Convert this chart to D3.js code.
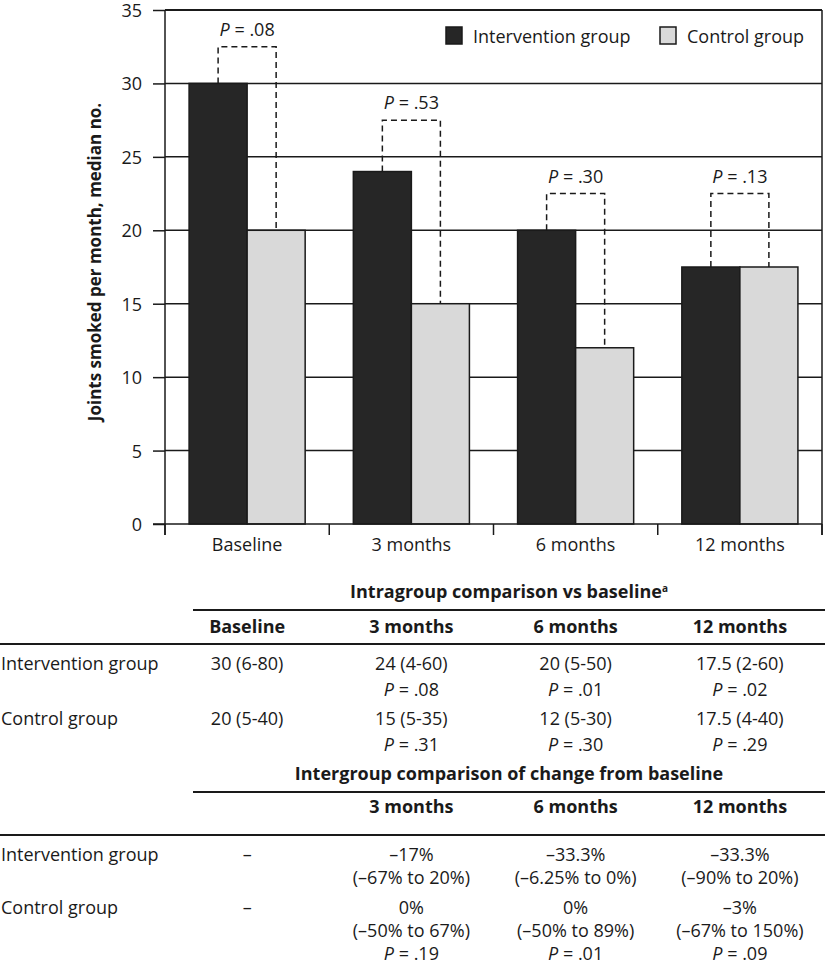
<!DOCTYPE html>
<html>
<head>
<meta charset="utf-8">
<script src="https://cdn.jsdelivr.net/npm/d3@7"></script>
<style>
  html, body { margin: 0; padding: 0; background: #fff; }
  svg { display: block; font-family: "Open Sans", "Noto Sans", sans-serif; }
</style>
</head>
<body>
<svg id="chart" width="825" height="965"></svg>
<script>
// ---------- Data ----------
const categories = ["Baseline", "3 months", "6 months", "12 months"];
const interventionValues = [30, 24, 20, 17.5];
const controlValues = [20, 15, 12, 17.5];
const pValues = [".08", ".53", ".30", ".13"];
const bracketTops = [32.5, 27.5, 22.5, 22.5];
const yTickValues = [0, 5, 10, 15, 20, 25, 30, 35];
const seriesNames = ["Intervention group", "Control group"];
const yAxisTitle = "Joints smoked per month, median no.";

const rowLabels = ["Intervention group", "Control group"];
const intraTitle = "Intragroup comparison vs baseline";
const intraHeaders = ["Baseline", "3 months", "6 months", "12 months"];
const intraIntervention = [["30 (6-80)"], ["24 (4-60)", "P = .08"], ["20 (5-50)", "P = .01"], ["17.5 (2-60)", "P = .02"]];
const intraControl = [["20 (5-40)"], ["15 (5-35)", "P = .31"], ["12 (5-30)", "P = .30"], ["17.5 (4-40)", "P = .29"]];
const interTitle = "Intergroup comparison of change from baseline";
const interHeaders = ["", "3 months", "6 months", "12 months"];
const interIntervention = [["–"], ["–17%", "(–67% to 20%)"], ["–33.3%", "(–6.25% to 0%)"], ["–33.3%", "(–90% to 20%)"]];
const interControl = [["–"], ["0%", "(–50% to 67%)", "P = .19"], ["0%", "(–50% to 89%)", "P = .01"], ["–3%", "(–67% to 150%)", "P = .09"]];

// ---------- Layout ----------
const svg = d3.select("#chart");
const pL = 165, pR = 822, pT = 10, pB = 524;
const colors = ["#262626", "#d9d9d9"];
const ink = "#1a1a1a";
const fs = 18;

const x = d3.scaleBand().domain(categories).range([pL, pR]).paddingInner(0).paddingOuter(0);
const y = d3.scaleLinear().domain([0, 35]).range([pB, pT]);
const inner = d3.scaleBand().domain([0, 1]).range([0, x.bandwidth()]).paddingOuter(0.415).paddingInner(0);

// gridlines
svg.append("g").selectAll("line").data(yTickValues.filter(v => v > 0)).join("line")
  .attr("x1", pL).attr("x2", pR)
  .attr("y1", d => y(d)).attr("y2", d => y(d))
  .attr("stroke", ink).attr("stroke-width", d => d === 35 ? 2 : 1.5);

// y axis
const yAxis = svg.append("g").attr("transform", `translate(${pL},0)`)
  .call(d3.axisLeft(y).tickValues(yTickValues).tickSize(12).tickPadding(11).tickFormat(d3.format("d")));
yAxis.select(".domain").remove();
yAxis.selectAll(".tick line").attr("stroke", ink).attr("stroke-width", 1.5);
yAxis.selectAll(".tick text").attr("font-size", fs).attr("fill", ink).attr("font-family", "Open Sans")
  .attr("dy", "0.36em");

// bars
const groups = svg.append("g").selectAll("g").data(categories).join("g")
  .attr("transform", d => `translate(${x(d)},0)`);
groups.selectAll("rect").data((d, i) => [interventionValues[i], controlValues[i]]).join("rect")
  .attr("x", (d, j) => inner(j))
  .attr("width", inner.bandwidth())
  .attr("y", d => y(d))
  .attr("height", d => y(0) - y(d))
  .attr("fill", (d, j) => colors[j])
  .attr("stroke", ink).attr("stroke-width", 1.5);

// axis lines / frame
svg.append("line").attr("x1", pL).attr("x2", pL).attr("y1", y(35)).attr("y2", pB + 11)
  .attr("stroke", ink).attr("stroke-width", 1.5);
svg.append("line").attr("x1", pR).attr("x2", pR).attr("y1", y(35)).attr("y2", pB + 11)
  .attr("stroke", ink).attr("stroke-width", 1.5);
svg.append("line").attr("x1", pL - 12).attr("x2", pR).attr("y1", pB).attr("y2", pB)
  .attr("stroke", ink).attr("stroke-width", 1.5);

// x boundary ticks
const bounds = categories.map(c => x(c)).concat([pR]);
svg.append("g").selectAll("line").data(bounds).join("line")
  .attr("x1", d => d).attr("x2", d => d).attr("y1", pB).attr("y2", pB + 11)
  .attr("stroke", ink).attr("stroke-width", 1.5);

// x labels
const xAxis = svg.append("g").attr("transform", `translate(0,${pB})`)
  .call(d3.axisBottom(x).tickSize(0).tickPadding(14));
xAxis.select(".domain").remove();
xAxis.selectAll(".tick text").attr("font-size", fs).attr("fill", ink).attr("font-family", "Open Sans");

// y axis title
svg.append("text")
  .attr("transform", `translate(101,${(pT + pB) / 2 - 5}) rotate(-90)`)
  .attr("text-anchor", "middle").attr("font-weight", "bold").attr("font-size", 17).attr("fill", ink)
  .text(yAxisTitle);

// P brackets
function pText(sel, val) {
  sel.append("tspan").attr("font-style", "italic").text("P");
  sel.append("tspan").text(" = " + val);
}
categories.forEach((c, i) => {
  const x1 = x(c) + inner(0) + inner.bandwidth() / 2;
  const x2 = x(c) + inner(1) + inner.bandwidth() / 2;
  const yt = y(bracketTops[i]);
  const path = d3.path();
  path.moveTo(x1, y(interventionValues[i]));
  path.lineTo(x1, yt);
  path.lineTo(x2, yt);
  path.lineTo(x2, y(controlValues[i]));
  svg.append("path").attr("d", path.toString()).attr("fill", "none")
    .attr("stroke", ink).attr("stroke-width", 1.5).attr("stroke-dasharray", "6,4");
  const t = svg.append("text").attr("x", (x1 + x2) / 2).attr("y", yt - 11)
    .attr("text-anchor", "middle").attr("font-size", fs).attr("fill", ink);
  pText(t, pValues[i]);
});

// legend
const legendX = [446, 660];
seriesNames.forEach((n, i) => {
  svg.append("rect").attr("x", legendX[i]).attr("y", 27).attr("width", 16).attr("height", 17)
    .attr("fill", colors[i]).attr("stroke", ink).attr("stroke-width", 1.5);
  svg.append("text").attr("x", legendX[i] + 27).attr("y", 43).attr("font-size", fs).attr("fill", ink).text(n);
});

// ---------- Table ----------
const tableLeft = 193, tableRight = 825;
function cellText(cx, yBase, str, bold) {
  const t = svg.append("text").attr("x", cx).attr("y", yBase).attr("text-anchor", "middle")
    .attr("font-size", fs).attr("fill", ink).attr("font-weight", bold ? "bold" : null);
  if (str.startsWith("P = ")) pText(t, str.slice(4)); else t.text(str);
}
function hline(x1, x2, yy) {
  svg.append("line").attr("x1", x1).attr("x2", x2).attr("y1", yy).attr("y2", yy)
    .attr("stroke", ink).attr("stroke-width", 2);
}
function section(title, sup, headers, rowsData, ys) {
  const tt = svg.append("text").attr("x", (tableLeft + tableRight) / 2).attr("y", ys.title)
    .attr("text-anchor", "middle").attr("font-size", fs).attr("font-weight", "bold").attr("fill", ink);
  tt.append("tspan").text(title);
  if (sup) tt.append("tspan").attr("font-size", 10).attr("dy", -6).attr("font-weight", "bold").text(sup);
  hline(tableLeft, tableRight, ys.line1);
  headers.forEach((h, i) => { if (h) cellText(x(categories[i]) + x.bandwidth() / 2, ys.header, h, true); });
  hline(0, tableRight, ys.line2);
  rowsData.forEach((row, r) => {
    svg.append("text").attr("x", 1).attr("y", ys.rows[r]).attr("font-size", fs).attr("fill", ink).text(rowLabels[r]);
    row.forEach((cell, i) => {
      cell.forEach((s, k) => cellText(x(categories[i]) + x.bandwidth() / 2, ys.rows[r] + k * ys.step, s, false));
    });
  });
}
section(intraTitle, "a", intraHeaders, [intraIntervention, intraControl],
  { title: 598, line1: 610, header: 633, line2: 644, rows: [670, 725], step: 25.5 });
section(interTitle, null, interHeaders, [interIntervention, interControl],
  { title: 780, line1: 792, header: 813, line2: 835, rows: [861, 914], step: 23 });
</script>
</body>
</html>
